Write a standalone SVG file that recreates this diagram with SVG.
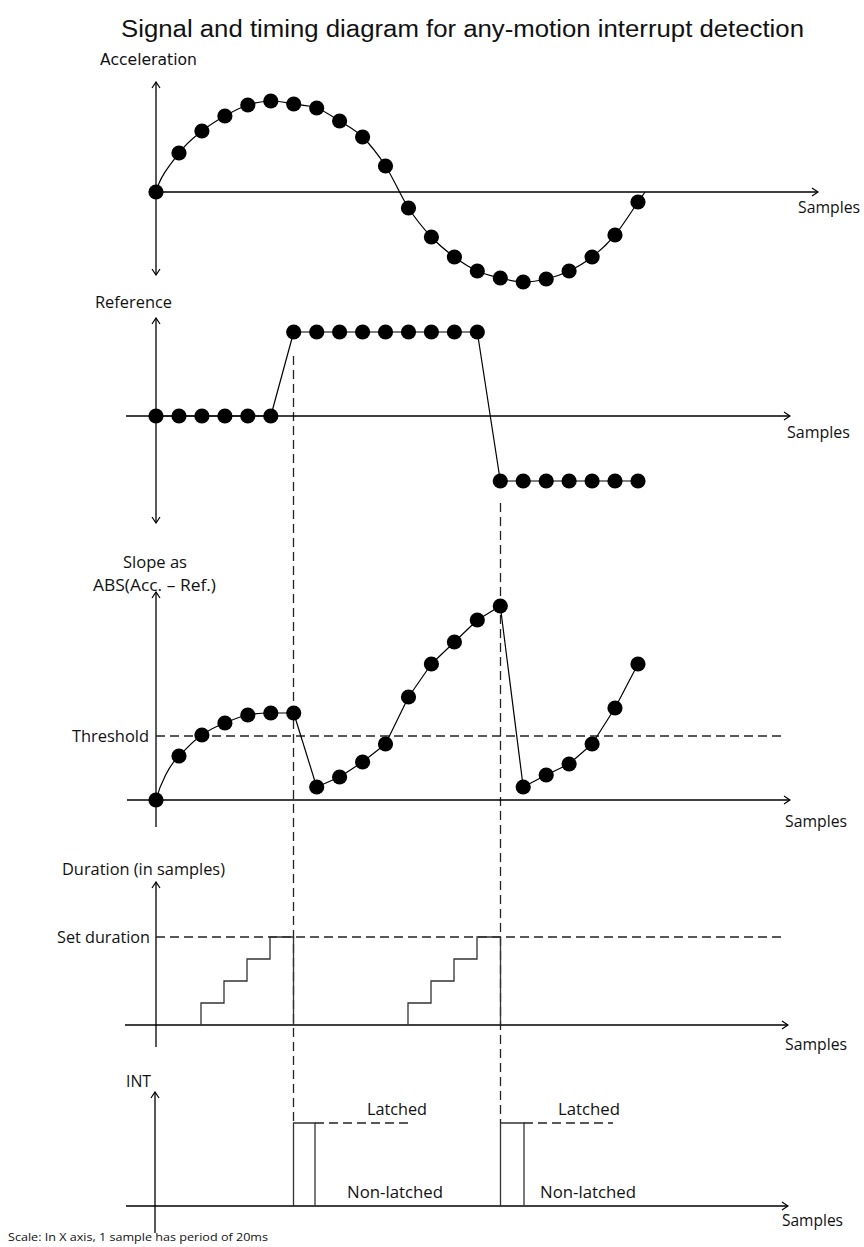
<svg xmlns="http://www.w3.org/2000/svg" width="864" height="1247" viewBox="0 0 864 1247">
<defs>
<style>
.ax{stroke:#000;stroke-width:1.3;fill:none}
.axa{stroke:#000;stroke-width:1.3;fill:none;marker-end:url(#arr)}
.axb{stroke:#000;stroke-width:1.3;fill:none;marker-end:url(#arr);marker-start:url(#arr)}
.dl{stroke:#000;stroke-width:1.2;fill:none;stroke-linejoin:round}
.st{stroke:#333;stroke-width:1.3;fill:none}
.da{stroke:#222;stroke-width:1.3;fill:none;stroke-dasharray:9 5}
.dot{fill:#000}
.lb{font-family:"Open Sans","Liberation Sans",sans-serif;font-size:16px;fill:#111}
.lbd{font-family:"DejaVu Sans",sans-serif;font-size:15.5px;fill:#111}
.ti{font-family:"Liberation Sans",Arial,sans-serif;font-size:23px;fill:#111}
.sc{font-family:"Open Sans","Liberation Sans",sans-serif;font-size:11px;fill:#111}
</style>
<marker id="arr" viewBox="0 0 8 10" refX="7" refY="5" markerWidth="8" markerHeight="10" markerUnits="userSpaceOnUse" orient="auto-start-reverse">
<path d="M1,1 L7,5 L1,9" fill="none" stroke="#000" stroke-width="1.2"/>
</marker>
<circle id="d" r="7.6" class="dot"/>
</defs>
<rect width="864" height="1247" fill="#fff"/>
<text class="ti" x="121" y="37" textLength="683" lengthAdjust="spacingAndGlyphs">Signal and timing diagram for any-motion interrupt detection</text>

<g id="connectors">
<line class="da" x1="293.5" y1="356" x2="293.5" y2="1123"/>
<line class="da" x1="500.5" y1="503" x2="500.5" y2="1123"/>
</g>

<g id="acceleration">
<text class="lbd" x="100" y="65" textLength="97" lengthAdjust="spacingAndGlyphs">Acceleration</text>
<line class="axb" x1="156" y1="82" x2="156" y2="275"/>
<line class="axa" x1="156" y1="192" x2="818" y2="192"/>
<text class="lb" x="798" y="213" textLength="62" lengthAdjust="spacingAndGlyphs">Samples</text>
<path class="dl" d="M156,192 C160,176 171.35,163.17 179,153 C186.65,142.83 194.25,137.17 201.9,131 C209.55,124.83 217.25,120.33 224.9,116 C232.55,111.67 240.15,107.5 247.8,105 C255.45,102.5 263.15,101.17 270.8,101 C278.45,100.83 286.05,102.83 293.7,104 C301.35,105.17 309.05,105.17 316.7,108 C324.35,110.83 331.95,116.17 339.6,121 C347.25,125.83 354.95,129.5 362.6,137 C370.25,144.5 377.85,154.17 385.5,166 C393.15,177.83 400.85,196.17 408.5,208 C416.15,219.83 423.75,228.83 431.4,237 C439.05,245.17 446.75,251.33 454.4,257 C462.05,262.67 469.65,267.5 477.3,271 C484.95,274.5 492.65,276.17 500.3,278 C507.95,279.83 515.55,281.83 523.2,282 C530.85,282.17 538.55,280.83 546.2,279 C553.85,277.17 561.45,274.67 569.1,271 C576.75,267.33 584.45,263 592.1,257 C599.75,251 607.35,244.17 615,235 C622.65,225.83 633,209.17 638,202 C643,194.83 643,195 645,192"/>
<use href="#d" x="156" y="192"/><use href="#d" x="179" y="153"/><use href="#d" x="201.9" y="131"/><use href="#d" x="224.9" y="116"/><use href="#d" x="247.8" y="105"/><use href="#d" x="270.8" y="101"/><use href="#d" x="293.7" y="104"/><use href="#d" x="316.7" y="108"/><use href="#d" x="339.6" y="121"/><use href="#d" x="362.6" y="137"/><use href="#d" x="385.5" y="166"/><use href="#d" x="408.5" y="208"/><use href="#d" x="431.4" y="237"/><use href="#d" x="454.4" y="257"/><use href="#d" x="477.3" y="271"/><use href="#d" x="500.3" y="278"/><use href="#d" x="523.2" y="282"/><use href="#d" x="546.2" y="279"/><use href="#d" x="569.1" y="271"/><use href="#d" x="592.1" y="257"/><use href="#d" x="615" y="235"/><use href="#d" x="638" y="202"/>
</g>

<g id="reference">
<text class="lb" x="95" y="308" textLength="77" lengthAdjust="spacingAndGlyphs">Reference</text>
<line class="axb" x1="156" y1="318" x2="156" y2="523"/>
<line class="axa" x1="126" y1="416" x2="790" y2="416"/>
<text class="lb" x="787" y="438" textLength="63" lengthAdjust="spacingAndGlyphs">Samples</text>
<polyline class="dl" points="156,416 270.8,416 293.7,332 477.3,332 500.3,481 638,481"/>
<use href="#d" x="156" y="416"/><use href="#d" x="179" y="416"/><use href="#d" x="201.9" y="416"/><use href="#d" x="224.9" y="416"/><use href="#d" x="247.8" y="416"/><use href="#d" x="270.8" y="416"/>
<use href="#d" x="293.7" y="332"/><use href="#d" x="316.7" y="332"/><use href="#d" x="339.6" y="332"/><use href="#d" x="362.6" y="332"/><use href="#d" x="385.5" y="332"/><use href="#d" x="408.5" y="332"/><use href="#d" x="431.4" y="332"/><use href="#d" x="454.4" y="332"/><use href="#d" x="477.3" y="332"/>
<use href="#d" x="500.3" y="481"/><use href="#d" x="523.2" y="481"/><use href="#d" x="546.2" y="481"/><use href="#d" x="569.1" y="481"/><use href="#d" x="592.1" y="481"/><use href="#d" x="615" y="481"/><use href="#d" x="638" y="481"/>
</g>

<g id="slope">
<text class="lb" x="123" y="568" textLength="64" lengthAdjust="spacingAndGlyphs">Slope as</text>
<text class="lb" x="93" y="591" textLength="123" lengthAdjust="spacingAndGlyphs">ABS(Acc. – Ref.)</text>
<line class="axa" x1="156" y1="827" x2="156" y2="592"/>
<line class="axa" x1="127" y1="800" x2="790" y2="800"/>
<line class="da" x1="156" y1="736" x2="785" y2="736"/>
<text class="lb" x="72" y="742" textLength="77" lengthAdjust="spacingAndGlyphs">Threshold</text>
<text class="lb" x="785" y="827" textLength="62" lengthAdjust="spacingAndGlyphs">Samples</text>
<path class="dl" d="M156,800 C160,784 170,764 179,756 C186,749 194,740 201.9,735 C209,730 217,726 224.9,723 C232,720 240,716.5 247.8,715 C255,713.5 263,713 270.8,713 L293.7,713 L316.7,787 L339.6,777 L362.6,762 L385.5,744 L408.5,697 L431.4,664 L454.4,642 L477.3,620 L500.3,606 L523.2,787 L546.2,775 L569.1,764 L592.1,744 L615,708 L638,664"/>
<use href="#d" x="156" y="800"/><use href="#d" x="179" y="756"/><use href="#d" x="201.9" y="735"/><use href="#d" x="224.9" y="723"/><use href="#d" x="247.8" y="715"/><use href="#d" x="270.8" y="713"/><use href="#d" x="293.7" y="713"/><use href="#d" x="316.7" y="787"/><use href="#d" x="339.6" y="777"/><use href="#d" x="362.6" y="762"/><use href="#d" x="385.5" y="744"/><use href="#d" x="408.5" y="697"/><use href="#d" x="431.4" y="664"/><use href="#d" x="454.4" y="642"/><use href="#d" x="477.3" y="620"/><use href="#d" x="500.3" y="606"/><use href="#d" x="523.2" y="787"/><use href="#d" x="546.2" y="775"/><use href="#d" x="569.1" y="764"/><use href="#d" x="592.1" y="744"/><use href="#d" x="615" y="708"/><use href="#d" x="638" y="664"/>
</g>

<g id="duration">
<text class="lb" x="62" y="875" textLength="163" lengthAdjust="spacingAndGlyphs">Duration (in samples)</text>
<line class="axa" x1="156" y1="1047" x2="156" y2="882"/>
<line class="axa" x1="125" y1="1025" x2="788" y2="1025"/>
<line class="da" x1="156" y1="937" x2="785" y2="937"/>
<text class="lb" x="57" y="943" textLength="93" lengthAdjust="spacingAndGlyphs">Set duration</text>
<text class="lb" x="785" y="1050" textLength="62" lengthAdjust="spacingAndGlyphs">Samples</text>
<polyline class="st" points="201,1025 201,1003 224,1003 224,981 247,981 247,959 270,959 270,937 293.5,937 293.5,1025"/>
<polyline class="st" points="408,1025 408,1003 431,1003 431,981 454,981 454,959 477,959 477,937 500.5,937 500.5,1025"/>
</g>

<g id="int">
<text class="lb" x="126" y="1087" textLength="25" lengthAdjust="spacingAndGlyphs">INT</text>
<line class="axa" x1="155" y1="1233" x2="155" y2="1092"/>
<line class="axa" x1="126" y1="1206" x2="788" y2="1206"/>
<polyline class="st" points="293.5,1206 293.5,1123 315,1123 315,1206"/>
<line class="da" x1="315" y1="1123" x2="408" y2="1123"/>
<text class="lb" x="367" y="1115" textLength="60" lengthAdjust="spacingAndGlyphs">Latched</text>
<text class="lb" x="347" y="1198" textLength="96" lengthAdjust="spacingAndGlyphs">Non-latched</text>
<polyline class="st" points="500.5,1206 500.5,1123 524,1123 524,1206"/>
<line class="da" x1="524" y1="1123" x2="613" y2="1123"/>
<text class="lb" x="558" y="1115" textLength="62" lengthAdjust="spacingAndGlyphs">Latched</text>
<text class="lb" x="540" y="1198" textLength="96" lengthAdjust="spacingAndGlyphs">Non-latched</text>
<text class="lb" x="782" y="1226" textLength="61" lengthAdjust="spacingAndGlyphs">Samples</text>
<text class="sc" x="8" y="1241" textLength="260" lengthAdjust="spacingAndGlyphs">Scale: In X axis, 1 sample has period of 20ms</text>
</g>
</svg>
